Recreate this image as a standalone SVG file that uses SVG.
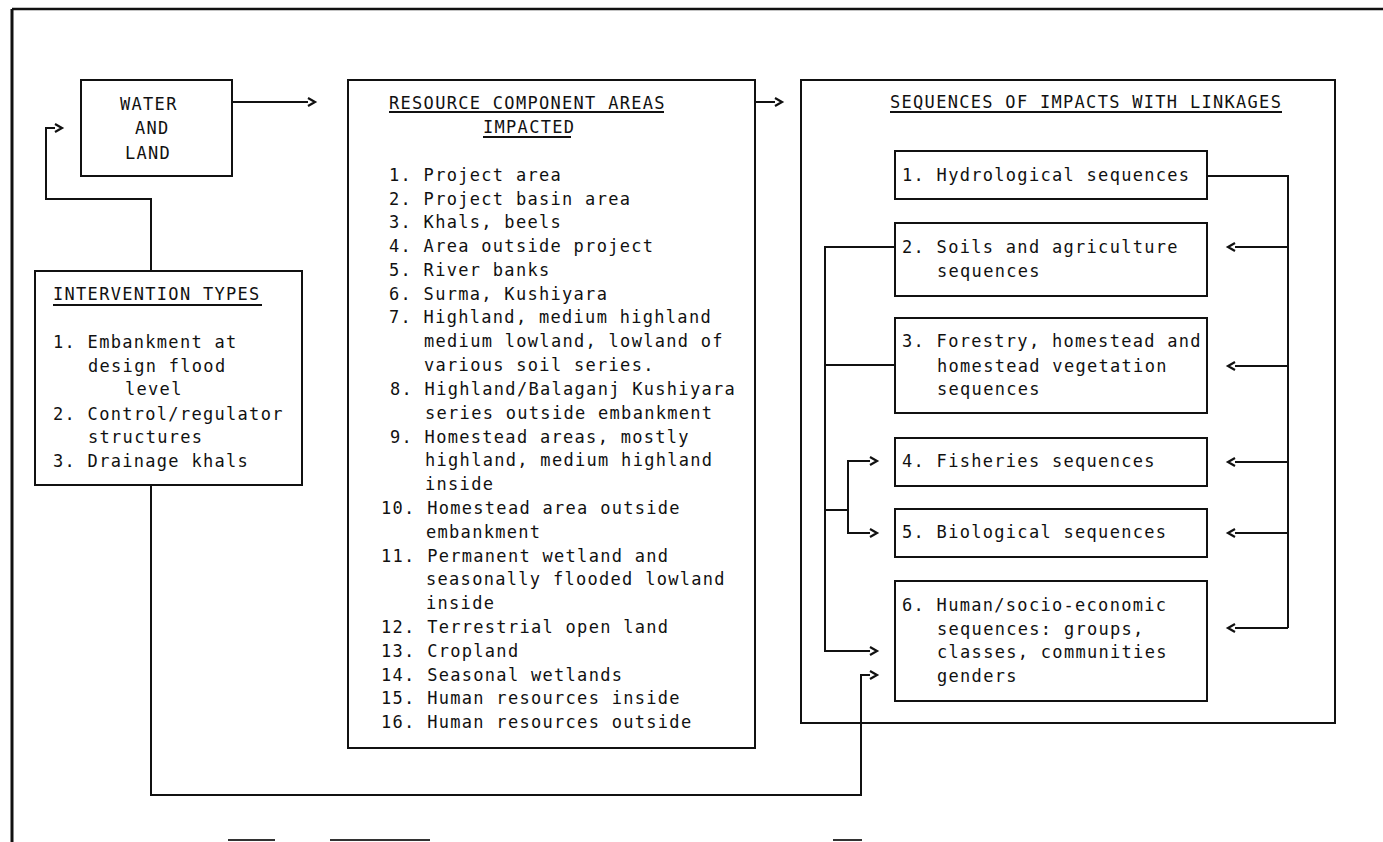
<svg xmlns="http://www.w3.org/2000/svg" width="1383" height="842" viewBox="0 0 1383 842">
<style>
.bx{fill:none;stroke:#111;stroke-width:2}
.ln{fill:none;stroke:#111;stroke-width:2}
.ah{fill:none;stroke:#111;stroke-width:2.2;stroke-linejoin:miter}
.t{font-family:"DejaVu Sans Mono","Liberation Mono",monospace;font-size:17px;letter-spacing:1.3px;fill:#111}
.ul{stroke:#111;stroke-width:2}
</style>
<rect width="1383" height="842" fill="#fff"/>
<g id="frame">
<line x1="12" y1="9" x2="1383" y2="9" stroke="#111" stroke-width="2.5"/>
<line x1="12" y1="9" x2="12" y2="842" stroke="#111" stroke-width="3"/>
<line x1="228" y1="840" x2="275" y2="840" stroke="#333" stroke-width="2"/>
<line x1="330" y1="840" x2="430" y2="840" stroke="#333" stroke-width="2"/>
<line x1="833" y1="840" x2="862" y2="840" stroke="#333" stroke-width="2"/>
</g>
<g id="water-land">
<rect class="bx" x="81" y="80" width="151" height="96"/>
<text class="t" x="120" y="110">WATER</text>
<text class="t" x="135" y="134">AND</text>
<text class="t" x="125" y="159">LAND</text>
</g>
<g id="intervention-types">
<rect class="bx" x="35" y="271" width="267" height="214"/>
<text class="t" x="53" y="300">INTERVENTION TYPES</text>
<line class="ul" x1="53" y1="305" x2="262" y2="305"/>
<text class="t" x="53" y="348">1. Embankment at</text>
<text class="t" x="88" y="372">design flood</text>
<text class="t" x="125" y="395">level</text>
<text class="t" x="53" y="420">2. Control/regulator</text>
<text class="t" x="88" y="443">structures</text>
<text class="t" x="53" y="467">3. Drainage khals</text>
</g>
<g id="resource-areas">
<rect class="bx" x="348" y="80" width="407" height="668"/>
<text class="t" x="389" y="109">RESOURCE COMPONENT AREAS</text>
<line class="ul" x1="389" y1="112" x2="664" y2="112"/>
<text class="t" x="483" y="133">IMPACTED</text>
<line class="ul" x1="483" y1="137" x2="571" y2="137"/>
<text class="t" x="389" y="181">1. Project area</text>
<text class="t" x="389" y="205">2. Project basin area</text>
<text class="t" x="389" y="228">3. Khals, beels</text>
<text class="t" x="389" y="252">4. Area outside project</text>
<text class="t" x="389" y="276">5. River banks</text>
<text class="t" x="389" y="300">6. Surma, Kushiyara</text>
<text class="t" x="389" y="323">7. Highland, medium highland</text>
<text class="t" x="424" y="347">medium lowland, lowland of</text>
<text class="t" x="424" y="371">various soil series.</text>
<text class="t" x="390" y="395">8. Highland/Balaganj Kushiyara</text>
<text class="t" x="425" y="419">series outside embankment</text>
<text class="t" x="390" y="443">9. Homestead areas, mostly</text>
<text class="t" x="425" y="466">highland, medium highland</text>
<text class="t" x="425" y="490">inside</text>
<text class="t" x="381" y="514">10. Homestead area outside</text>
<text class="t" x="426" y="538">embankment</text>
<text class="t" x="381" y="562">11. Permanent wetland and</text>
<text class="t" x="426" y="585">seasonally flooded lowland</text>
<text class="t" x="426" y="609">inside</text>
<text class="t" x="381" y="633">12. Terrestrial open land</text>
<text class="t" x="381" y="657">13. Cropland</text>
<text class="t" x="381" y="681">14. Seasonal wetlands</text>
<text class="t" x="381" y="704">15. Human resources inside</text>
<text class="t" x="381" y="728">16. Human resources outside</text>
</g>
<g id="sequences">
<rect class="bx" x="801" y="80" width="534" height="643"/>
<text class="t" x="890" y="108">SEQUENCES OF IMPACTS WITH LINKAGES</text>
<line class="ul" x1="890" y1="112" x2="1282" y2="112"/>
</g>
<g id="seq-1">
<rect class="bx" x="895" y="151" width="312" height="48"/>
<text class="t" x="902" y="181">1. Hydrological sequences</text>
</g>
<g id="seq-2">
<rect class="bx" x="895" y="223" width="312" height="73"/>
<text class="t" x="902" y="253">2. Soils and agriculture</text>
<text class="t" x="937" y="277">sequences</text>
</g>
<g id="seq-3">
<rect class="bx" x="895" y="318" width="312" height="95"/>
<text class="t" x="902" y="347">3. Forestry, homestead and</text>
<text class="t" x="937" y="372">homestead vegetation</text>
<text class="t" x="937" y="395">sequences</text>
</g>
<g id="seq-4">
<rect class="bx" x="895" y="438" width="312" height="48"/>
<text class="t" x="902" y="467">4. Fisheries sequences</text>
</g>
<g id="seq-5">
<rect class="bx" x="895" y="509" width="312" height="48"/>
<text class="t" x="902" y="538">5. Biological sequences</text>
</g>
<g id="seq-6">
<rect class="bx" x="895" y="581" width="312" height="120"/>
<text class="t" x="902" y="611">6. Human/socio-economic</text>
<text class="t" x="937" y="635">sequences: groups,</text>
<text class="t" x="937" y="658">classes, communities</text>
<text class="t" x="937" y="682">genders</text>
</g>
<g id="connectors">
<!-- water-land to resource areas -->
<path class="ln" d="M232 102 H308"/>
<path class="ah" d="M308 98 L315 102 L308 106"/>
<!-- resource areas to sequences -->
<path class="ln" d="M755 102 H775"/>
<path class="ah" d="M775 98 L782 102 L775 106"/>
<!-- intervention to water-land -->
<path class="ln" d="M151 271 V199 H46 V128 H55"/>
<path class="ah" d="M55 124 L62 128 L55 132"/>
<!-- intervention to seq-6 -->
<path class="ln" d="M151 485 V795 H861 V675 H870"/>
<path class="ah" d="M870 671 L877 675 L870 679"/>
<!-- seq-1 feeding 2..6 on the right -->
<path class="ln" d="M1207 176 H1288 V628"/>
<path class="ln" d="M1288 247 H1235"/>
<path class="ah" d="M1235 243 L1228 247 L1235 251"/>
<path class="ln" d="M1288 366 H1235"/>
<path class="ah" d="M1235 362 L1228 366 L1235 370"/>
<path class="ln" d="M1288 462 H1235"/>
<path class="ah" d="M1235 458 L1228 462 L1235 466"/>
<path class="ln" d="M1288 533 H1235"/>
<path class="ah" d="M1235 529 L1228 533 L1235 537"/>
<path class="ln" d="M1288 628 H1235"/>
<path class="ah" d="M1235 624 L1228 628 L1235 632"/>
<!-- seq-2/3 feeding 4,5,6 on the left -->
<path class="ln" d="M895 247 H825 V651 H870"/>
<path class="ah" d="M870 647 L877 651 L870 655"/>
<path class="ln" d="M895 365 H825"/>
<path class="ln" d="M825 510 H848"/>
<path class="ln" d="M870 461 H848 V533 H870"/>
<path class="ah" d="M870 457 L877 461 L870 465"/>
<path class="ah" d="M870 529 L877 533 L870 537"/>
</g>
</svg>
